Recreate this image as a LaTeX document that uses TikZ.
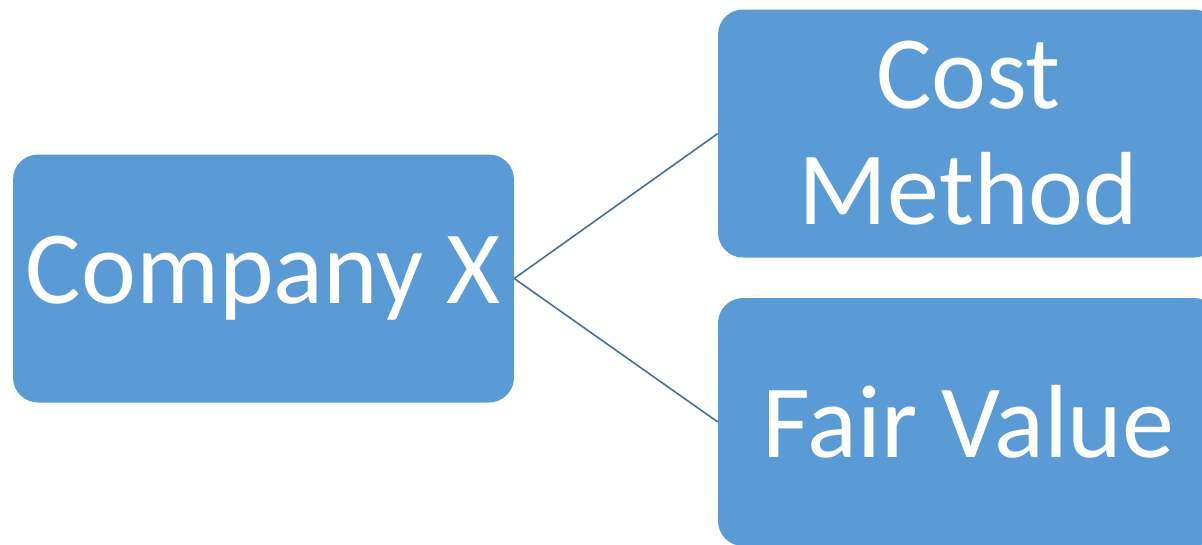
\documentclass[tikz,border=0pt]{standalone}
\usepackage{fontspec}
\setmainfont{Carlito}
\definecolor{boxblue}{HTML}{5B9BD5}
\definecolor{linkblue}{HTML}{41719C}
\begin{document}
\begin{tikzpicture}[x=1pt,y=-1pt,
  card/.style={fill=boxblue, draw=none, rounded corners=25pt,
    minimum width=501pt, minimum height=248pt, inner sep=0pt,
    text=white, align=center,
    font=\fontsize{104pt}{116pt}\selectfont},
  link/.style={draw=linkblue, line width=1.6pt}]
  \useasboundingbox (0,0) rectangle (1202,544);
  \node[card] (company) at (263.5,278.5) {Company X};
  \node[card] (cost) at (968.5,133.5) {Cost\\Method};
  \node[card] (fair) at (968.5,422) {Fair Value};
  \draw[link] (company.east) -- (cost.west);
  \draw[link] (company.east) -- (fair.west);
\end{tikzpicture}
\end{document}
